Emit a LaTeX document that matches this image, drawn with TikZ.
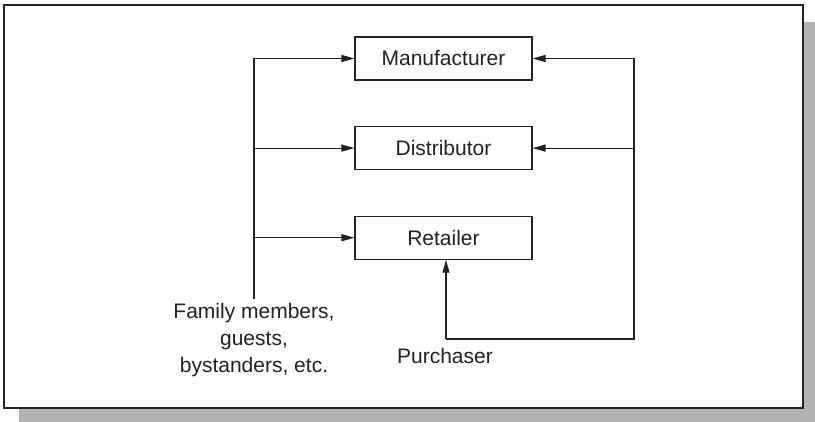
\documentclass[tikz,border=0pt]{standalone}
\usepackage{fontspec}
\setmainfont{Liberation Sans}
\usetikzlibrary{positioning,arrows.meta}
\definecolor{inkgray}{HTML}{222222}
\definecolor{shadowgray}{HTML}{B3B3B3}
\tikzset{
  stage/.style={draw=inkgray, line width=1.1pt, minimum width=177pt, minimum height=43pt, inner sep=0pt},
  line/.style={draw=inkgray, line width=1.1pt},
  flow/.style={line, -{Triangle[length=13pt,width=7pt]}},
  tag/.style={align=center, inner sep=0pt}
}
\begin{document}
\begin{tikzpicture}[x=1pt, y=-1pt, node distance=45.5pt, font=\fontsize{21pt}{27pt}\selectfont, text=inkgray]
      \useasboundingbox (0,0) rectangle (815,422);
      % Frame
      \fill[shadowgray] (19,22) rectangle (815,422);
      \draw[inkgray, line width=1.6pt, fill=white] (4,5) rectangle (803,408);
      % Define nodes
      \node[stage] (man) at (443.5,58.5) {Manufacturer};
      \node[stage, below=of man] (dis) {Distributor};
      \node[stage, below=of dis] (ret) {Retailer};
      \node[tag] (fam) at (254,340) {Family members,\\guests,\\bystanders, etc.};
      \node[tag] (pur) at (445,356) {Purchaser};
      \coordinate (rt) at (634,339);
      \coordinate (pb) at (446,339);
      % Connect nodes
      \draw[line] ([yshift=4pt]fam.north) -- (man.west -| fam.north);
      \foreach \n in {man,dis,ret}
        \draw[flow] (\n.west -| fam.north) -- (\n.west);
      \draw[line] (man.east -| rt) -- (rt) -- (pb);
      \foreach \n in {man,dis}
        \draw[flow] (\n.east -| rt) -- (\n.east);
      \draw[flow] (pb) -- (pb |- ret.south);
    \end{tikzpicture}
\end{document}
